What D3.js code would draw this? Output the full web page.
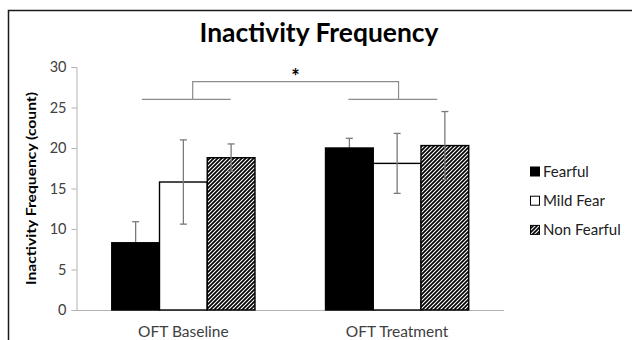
<!DOCTYPE html>
<html>
<head>
<meta charset="utf-8">
<script src="https://cdn.jsdelivr.net/npm/d3@7"></script>
<style>
    body { margin: 0; background: #fff; }
    text { font-family: Lato, "Open Sans", sans-serif; fill: #000; }
    .title { font-size: 27px; font-weight: bold; }
    .axis-title { font-size: 13px; font-weight: bold; }
    .tick-label { font-size: 14.5px; fill: #404040; }
    .cat-label { font-size: 15.5px; fill: #404040; }
    .legend-label { font-size: 15px; fill: #202020; }
</style>
</head>
<body>
<div id="chart"></div>
<script>
//////////////////////////////////////////////////////////////
//////////////////////// Data ////////////////////////////////
//////////////////////////////////////////////////////////////

const categories = ["OFT Baseline", "OFT Treatment"]
const seriesNames = ["Fearful", "Mild Fear", "Non Fearful"]
const fearful = [8.3, 20.0]
const mildFear = [15.8, 18.1]
const nonFearful = [18.8, 20.3]
const fearfulErr = [2.6, 1.2]
const mildFearErr = [5.2, 3.7]
const nonFearfulErr = [1.7, 4.2]
const yTicks = [0, 5, 10, 15, 20, 25, 30]
const yMax = 30

//significance bracket (in data units)
const bracketLow = 26.0
const bracketHigh = 28.2
const bracketLabel = "*"

const values = [fearful, mildFear, nonFearful]
const errors = [fearfulErr, mildFearErr, nonFearfulErr]

const data = []
categories.forEach((c, ci) => {
    seriesNames.forEach((s, si) => {
        data.push({ category: c, series: s, value: values[si][ci], err: errors[si][ci] })
    })
})

//////////////////////////////////////////////////////////////
//////////////////////// Create SVG //////////////////////////
//////////////////////////////////////////////////////////////

const width = 632
const height = 340
const plot = { left: 76.5, right: 504, top: 67, bottom: 310 }

const svg = d3.select("#chart").append("svg")
    .attr("width", width)
    .attr("height", height)

//hatch pattern for the Non Fearful bars
const defs = svg.append("defs")
const hatch = defs.append("pattern")
    .attr("id", "hatch")
    .attr("patternUnits", "userSpaceOnUse")
    .attr("width", 4)
    .attr("height", 4)
hatch.append("rect").attr("width", 4).attr("height", 4).attr("fill", "#fff")
hatch.append("path")
    .attr("d", "M-1,1 l2,-2 M0,4 l4,-4 M3,5 l2,-2")
    .attr("stroke", "#000")
    .attr("stroke-width", 1.7)

const fills = { "Fearful": "#000", "Mild Fear": "#fff", "Non Fearful": "url(#hatch)" }

//outer frame (only left and top visible)
svg.append("path")
    .attr("d", "M8.5," + height + " V10.5 H" + width)
    .attr("fill", "none")
    .attr("stroke", "#1a1a1a")
    .attr("stroke-width", 1.5)

//////////////////////////////////////////////////////////////
////////////////////// Create scales /////////////////////////
//////////////////////////////////////////////////////////////

const x0 = d3.scaleBand()
    .domain(categories)
    .range([plot.left, plot.right])
    .paddingInner(0.33)
    .paddingOuter(0.165)

const x1 = d3.scaleBand()
    .domain(seriesNames)
    .range([0, x0.bandwidth()])

const y = d3.scaleLinear()
    .domain([0, yMax])
    .range([plot.bottom, plot.top])

//////////////////////////////////////////////////////////////
///////////////////////// Axes ///////////////////////////////
//////////////////////////////////////////////////////////////

const axisColor = "#b3b3b3"

const yAxis = svg.append("g")
    .attr("transform", "translate(" + plot.left + ",0)")
    .call(d3.axisLeft(y).tickValues(yTicks).tickSize(5).tickPadding(5))
yAxis.select(".domain").attr("stroke", axisColor)
yAxis.selectAll(".tick line").attr("stroke", axisColor)
yAxis.selectAll(".tick text")
    .attr("class", "tick-label")
    .attr("font-family", null)
    .attr("font-size", null)
    .attr("fill", null)

svg.append("line")
    .attr("x1", plot.left)
    .attr("x2", plot.right)
    .attr("y1", y(0) + 0.5)
    .attr("y2", y(0) + 0.5)
    .attr("stroke", axisColor)

svg.selectAll(".cat-label")
    .data(categories)
    .enter().append("text")
    .attr("class", "cat-label")
    .attr("x", d => x0(d) + x0.bandwidth() / 2)
    .attr("y", 337)
    .attr("text-anchor", "middle")
    .text(d => d)

svg.append("text")
    .attr("class", "axis-title")
    .attr("transform", "translate(36," + (y(0) + y(yMax)) / 2 + ") rotate(-90)")
    .attr("text-anchor", "middle")
    .attr("textLength", 193)
    .attr("lengthAdjust", "spacingAndGlyphs")
    .text("Inactivity Frequency (count)")

svg.append("text")
    .attr("class", "title")
    .attr("x", 319)
    .attr("y", 42)
    .attr("text-anchor", "middle")
    .attr("textLength", 239)
    .attr("lengthAdjust", "spacingAndGlyphs")
    .text("Inactivity Frequency")

//////////////////////////////////////////////////////////////
/////////////////////// Draw bars ////////////////////////////
//////////////////////////////////////////////////////////////

const errColor = "#7a7a7a"
const capW = 3.5

function drawErrors(g, rows) {
    const cx = d => x0(d.category) + x1(d.series) + x1.bandwidth() / 2
    g.selectAll(".err-line")
        .data(rows)
        .enter().append("line")
        .attr("x1", cx).attr("x2", cx)
        .attr("y1", d => y(d.value - d.err))
        .attr("y2", d => y(d.value + d.err))
        .attr("stroke", errColor)
        .attr("stroke-width", 1.3)
    g.selectAll(".cap-top")
        .data(rows)
        .enter().append("line")
        .attr("x1", d => cx(d) - capW).attr("x2", d => cx(d) + capW)
        .attr("y1", d => y(d.value + d.err)).attr("y2", d => y(d.value + d.err))
        .attr("stroke", errColor)
        .attr("stroke-width", 1.3)
    g.selectAll(".cap-bottom")
        .data(rows)
        .enter().append("line")
        .attr("x1", d => cx(d) - capW).attr("x2", d => cx(d) + capW)
        .attr("y1", d => y(d.value - d.err)).attr("y2", d => y(d.value - d.err))
        .attr("stroke", errColor)
        .attr("stroke-width", 1.3)
}

//the black bars hide the lower half of their whiskers
drawErrors(svg.append("g"), data.filter(d => d.series === "Fearful"))

svg.append("g").selectAll("rect")
    .data(data)
    .enter().append("rect")
    .attr("x", d => x0(d.category) + x1(d.series))
    .attr("y", d => y(d.value))
    .attr("width", x1.bandwidth())
    .attr("height", d => y(0) - y(d.value))
    .attr("fill", d => fills[d.series])
    .attr("stroke", "#000")
    .attr("stroke-width", 1.4)

drawErrors(svg.append("g"), data.filter(d => d.series !== "Fearful"))

//////////////////////////////////////////////////////////////
///////////////////// Significance bracket ///////////////////
//////////////////////////////////////////////////////////////

const bw = x0.bandwidth()
const br = svg.append("g")
    .attr("fill", "none")
    .attr("stroke", "#8c8c8c")
    .attr("stroke-width", 1.2)

const leftX = x0(categories[0])
const rightX = x0(categories[1])
br.append("line")
    .attr("x1", leftX + bw * 0.21).attr("x2", leftX + bw * 0.83)
    .attr("y1", y(bracketLow)).attr("y2", y(bracketLow))
br.append("line")
    .attr("x1", rightX + bw * 0.16).attr("x2", rightX + bw * 0.78)
    .attr("y1", y(bracketLow)).attr("y2", y(bracketLow))
br.append("path")
    .attr("d", "M" + (leftX + bw * 0.565) + "," + y(bracketLow) +
        " V" + y(bracketHigh) +
        " H" + (rightX + bw * 0.51) +
        " V" + y(bracketLow))

svg.append("text")
    .attr("x", (leftX + rightX + bw * 1.075) / 2)
    .attr("y", y(bracketHigh) + 2)
    .attr("text-anchor", "middle")
    .style("font-size", "20px")
    .style("font-weight", "bold")
    .text(bracketLabel)

//////////////////////////////////////////////////////////////
////////////////////////// Legend ////////////////////////////
//////////////////////////////////////////////////////////////

const legend = svg.append("g").attr("transform", "translate(530,166.5)")

const items = legend.selectAll(".legend-item")
    .data(seriesNames)
    .enter().append("g")
    .attr("transform", (d, i) => "translate(0," + i * 29.2 + ")")

items.append("rect")
    .attr("x", 0.5)
    .attr("y", 0.5)
    .attr("width", 9)
    .attr("height", 9)
    .attr("fill", d => fills[d])
    .attr("stroke", "#000")
    .attr("stroke-width", 1)

items.append("text")
    .attr("class", "legend-label")
    .attr("x", 13)
    .attr("y", 10)
    .text(d => d)
</script>
</body>
</html>
